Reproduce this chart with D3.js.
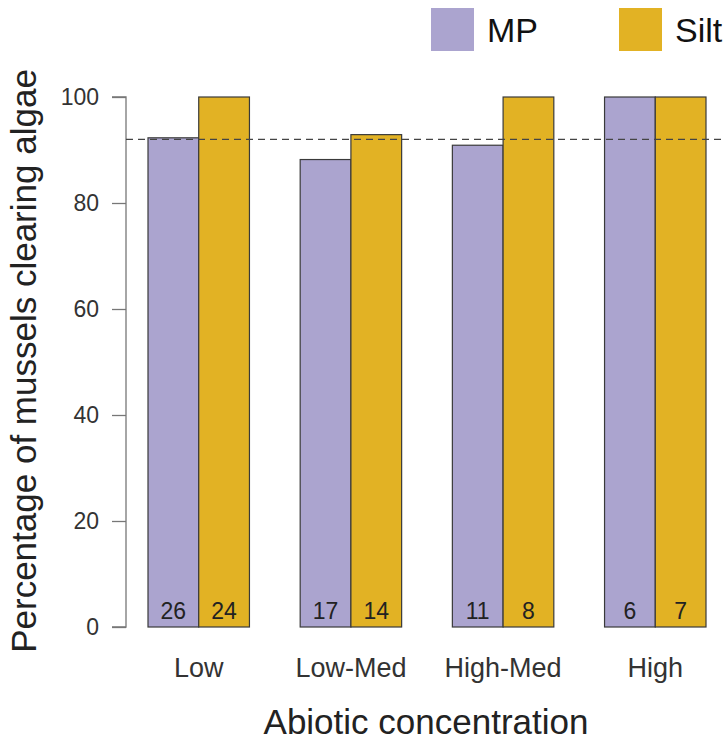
<!DOCTYPE html>
<html>
<head>
<meta charset="utf-8">
<script src="https://cdn.jsdelivr.net/npm/d3@7"></script>
<style>
  body { margin: 0; background: #fff; }
  svg text { font-family: "Liberation Sans", Arial, sans-serif; }
</style>
</head>
<body>
<div class="root"></div>
<script>
const width = 726;
const height = 740;

// data
const categories = ["Low", "Low-Med", "High-Med", "High"];
const series = ["MP", "Silt"];
const mpValues = [92.3, 88.2, 90.9, 100];
const siltValues = [100, 92.9, 100, 100];
const mpCounts = [26, 17, 11, 6];
const siltCounts = [24, 14, 8, 7];
const yTicks = [0, 20, 40, 60, 80, 100];
const refLine = 92;

const colors = { MP: "#aba4cf", Silt: "#e2b224" };

const rows = categories.map((c, i) => ({
  cat: c,
  bars: [
    { key: "MP", value: mpValues[i], n: mpCounts[i] },
    { key: "Silt", value: siltValues[i], n: siltCounts[i] },
  ],
}));

const svg = d3
  .select(".root")
  .append("svg")
  .attr("width", width)
  .attr("height", height)
  .attr("font-family", "Liberation Sans, Arial, sans-serif");

const x = d3
  .scaleBand()
  .domain(categories)
  .range([148, 706])
  .paddingInner(1 / 3)
  .paddingOuter(0);

const xInner = d3.scaleBand().domain(series).range([0, x.bandwidth()]);

const y = d3.scaleLinear().domain([0, 100]).range([627, 97]);

// y axis
const yAxis = svg
  .append("g")
  .attr("transform", "translate(126,0)")
  .call(d3.axisLeft(y).tickValues(yTicks).tickSize(14).tickPadding(13));
yAxis.select(".domain").attr("stroke", "#777").attr("stroke-width", 1.3)
  .attr("d", `M-14,${y(100)}H0V${y(0)}H-14`);
yAxis.selectAll(".tick line").attr("stroke", "#777").attr("stroke-width", 1.3);
yAxis.selectAll(".tick text")
  .attr("font-size", 23)
  .attr("fill", "#333");

// bars
const groups = svg
  .selectAll(".grp")
  .data(rows)
  .join("g")
  .attr("class", "grp")
  .attr("transform", (d) => `translate(${x(d.cat)},0)`);

groups
  .selectAll("rect")
  .data((d) => d.bars)
  .join("rect")
  .attr("x", (d) => xInner(d.key))
  .attr("y", (d) => y(d.value))
  .attr("width", xInner.bandwidth())
  .attr("height", (d) => y(0) - y(d.value))
  .attr("fill", (d) => colors[d.key])
  .attr("stroke", "#3a3a3a")
  .attr("stroke-width", 1.2);

groups
  .selectAll(".cnt")
  .data((d) => d.bars)
  .join("text")
  .attr("class", "cnt")
  .attr("x", (d) => xInner(d.key) + xInner.bandwidth() / 2)
  .attr("y", 619)
  .attr("text-anchor", "middle")
  .attr("font-size", 23)
  .attr("fill", "#222")
  .text((d) => d.n);

// reference line
svg
  .append("line")
  .attr("x1", 126)
  .attr("x2", width)
  .attr("y1", y(refLine))
  .attr("y2", y(refLine))
  .attr("stroke", "#444")
  .attr("stroke-width", 1.3)
  .attr("stroke-dasharray", "7,5");

// category labels
svg
  .selectAll(".cat")
  .data(categories)
  .join("text")
  .attr("class", "cat")
  .attr("x", (d) => x(d) + x.bandwidth() / 2)
  .attr("y", 677)
  .attr("text-anchor", "middle")
  .attr("font-size", 27)
  .attr("fill", "#333")
  .text((d) => d);

// axis titles
svg
  .append("text")
  .attr("x", 426)
  .attr("y", 734)
  .attr("text-anchor", "middle")
  .attr("font-size", 35)
  .attr("fill", "#222")
  .text("Abiotic concentration");

svg
  .append("text")
  .attr("transform", "translate(36,361) rotate(-90)")
  .attr("text-anchor", "middle")
  .attr("font-size", 35)
  .attr("fill", "#222")
  .text("Percentage of mussels clearing algae");

// legend
const legendX = [431, 619];
const legend = svg
  .selectAll(".leg")
  .data(series)
  .join("g")
  .attr("class", "leg")
  .attr("transform", (d, i) => `translate(${legendX[i]},8)`);

legend
  .append("rect")
  .attr("width", 43)
  .attr("height", 43)
  .attr("fill", (d) => colors[d]);

legend
  .append("text")
  .attr("x", 56)
  .attr("y", 34)
  .attr("font-size", 34)
  .attr("fill", "#111")
  .text((d) => d);
</script>
</body>
</html>
